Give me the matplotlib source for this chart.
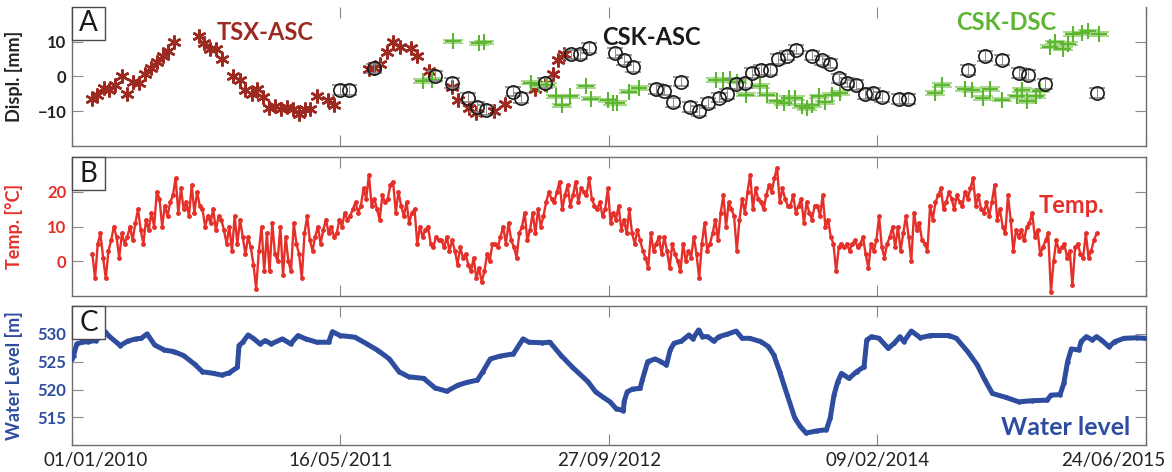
import matplotlib.pyplot as plt
import matplotlib.dates as mdates
import matplotlib.transforms as mtransforms
from matplotlib.patches import Rectangle
import numpy as np
import pandas as pd

plt.rcParams['font.family'] = ['Lato', 'DejaVu Sans']

start = pd.Timestamp('2010-01-01')
end = pd.Timestamp('2015-06-24')
tick_days = [0, 500, 1000, 1500, 2000]

# InSAR displacement [mm], acquisition day counted from 01/01/2010
tsx_days = [38, 47, 60, 69, 80, 93, 103, 114, 125, 136, 147, 158, 169, 179, 190, 236, 246, 257, 268, 280,
            300, 312, 323, 335, 345, 356, 367, 379, 390, 400, 411, 423, 434, 444, 456, 477, 488, 554, 563, 574,
            586, 598, 610, 631, 642, 665, 707, 719, 740, 752, 786, 807, 862, 881, 895, 905, 916]
tsx_disp = [-6.4, -5.3, -3.4, -3.9, -2.5, 0.1, -5.1, -1.5, -1.8, 0.6, 2.3, 4.2, 6.0, 7.3, 10.0, 11.5, 9.7, 8.0, 8.0, 5.1,
            0.1, -1.0, -3.9, -5.1, -3.7, -6.0, -9.1, -8.6, -9.3, -8.8, -9.4, -10.9, -9.4, -9.4, -5.6, -6.7, -8.2, 2.0, 2.5, 3.7,
            7.0, 9.8, 8.4, 8.1, 6.0, 1.6, -3.1, -6.9, -9.1, -10.7, -9.9, -8.0, -3.7, -2.2, 0.6, 4.8, 6.5]

cska_days = [499, 515, 563, 676, 707, 738, 755, 771, 821, 836, 881, 930, 946, 963, 1011, 1028, 1044, 1087, 1102, 1120,
             1135, 1151, 1168, 1185, 1204, 1220, 1236, 1253, 1267, 1284, 1300, 1315, 1332, 1348, 1379, 1396, 1412, 1429,
             1444, 1460, 1477, 1492, 1508, 1541, 1556, 1669, 1700, 1732, 1764, 1780, 1812, 1908]
cska_disp = [-3.9, -3.9, 2.3, 0.1, -2.0, -6.1, -8.8, -9.8, -4.4, -6.3, -2.0, 6.3, 6.3, 8.1, 6.7, 4.8, 2.6, -3.7, -4.1, -7.5,
             -1.5, -8.8, -9.9, -7.7, -6.1, -5.0, -2.2, -2.0, 1.0, 1.8, 1.8, 5.1, 6.0, 7.7, 6.0, 4.6, 3.7, -0.6,
             -1.8, -2.5, -5.1, -4.8, -6.0, -6.5, -6.5, 1.8, 5.8, 4.8, 1.0, 0.4, -2.2, -4.8]
cska_err = 1.4

cskd_days = [653, 670, 710, 758, 767, 854, 870, 884, 902, 912, 927, 958, 966, 999, 1008, 1015, 1038, 1055, 1200, 1213,
             1225, 1239, 1256, 1281, 1294, 1312, 1326, 1336, 1346, 1359, 1369, 1379, 1392, 1403, 1415, 1430, 1607, 1621,
             1663, 1676, 1697, 1709, 1731, 1759, 1769, 1778, 1795, 1802, 1821, 1831, 1845, 1855, 1865, 1880, 1892, 1913]
cskd_disp = [-1.3, -1.0, 10.1, 9.5, 9.8, -1.8, -2.5, -2.5, -5.8, -8.4, -5.8, -2.9, -6.4, -6.9, -7.7, -7.7, -4.4, -3.4, -1.0, -1.0,
             -0.9, -1.5, -5.3, -2.8, -5.3, -7.2, -7.7, -6.3, -6.3, -8.6, -9.1, -8.4, -5.8, -7.5, -5.3, -4.8, -4.8, -2.5,
             -3.7, -3.9, -6.3, -3.7, -6.7, -5.8, -3.9, -7.2, -5.8, -4.1, 8.6, 9.8, 8.0, 9.4, 12.2, 12.4, 13.0, 12.2]
cskd_err = 0.5

# air temperature [C], one reading every 5 days from 08/02/2010
temp_first = '2010-02-08'
temp_vals = [
    2, -5, 5, 8, 1, -5, 3, 6, 10, 7,
    1, 8, 5, 7, 10, 6, 11, 15, 9, 5,
    12, 9, 14, 10, 20, 18, 10, 16, 13, 17,
    19, 24, 14, 21, 15, 17, 13, 22, 14, 20,
    16, 15, 10, 13, 11, 15, 9, 13, 12, 9,
    5, 10, 3, 13, 5, 12, 7, 2, 7, 4,
    -1, -8, 3, 10, -3, 8, -3, 11, 2, 0,
    10, -4, 7, 0, -3, 11, 5, 2, -5, 8,
    13, 6, 3, 7, 10, 5, 9, 12, 8, 10,
    7, 8, 12, 10, 14, 12, 13, 15, 17, 14,
    16, 21, 18, 25, 16, 18, 15, 12, 19, 17,
    18, 22, 23, 14, 20, 16, 13, 17, 11, 14,
    15, 5, 10, 7, 9, 10, 5, 4, 7, 6,
    6, 4, 7, 3, 6, 3, -1, 4, 1, 2,
    -1, -3, 1, -5, -2, -6, -3, 2, 0, 5,
    5, 4, 7, 10, 5, 11, 6, 4, 1, 8,
    10, 14, 6, 9, 14, 8, 15, 10, 13, 17,
    20, 18, 17, 20, 23, 15, 19, 22, 16, 19,
    23, 17, 21, 20, 19, 24, 18, 16, 15, 17,
    13, 15, 21, 11, 14, 12, 16, 9, 12, 8,
    15, 8, 5, 9, 6, 3, 1, -2, 8, 3,
    5, 7, 2, 7, 3, -2, 5, 2, 0, -3,
    5, 0, 3, 1, 7, 2, -5, 5, 11, 3,
    5, 8, 12, 6, 14, 19, 10, 17, 15, 13,
    3, 12, 18, 14, 20, 25, 15, 21, 18, 17,
    15, 19, 22, 20, 24, 27, 17, 21, 18, 16,
    16, 19, 14, 16, 18, 11, 17, 14, 12, 16,
    16, 13, 19, 10, 12, 7, 5, -3, 4, 5,
    4, 5, 3, 5, 6, 4, 5, 7, 2, -2,
    5, 3, 6, 13, 4, 1, 5, 7, 10, 4,
    10, 3, 8, 13, 7, 0, 14, 9, 11, 6,
    5, 3, 16, 12, 17, 19, 21, 15, 17, 20,
    18, 15, 19, 17, 16, 20, 18, 21, 24, 16,
    19, 15, 14, 17, 13, 17, 22, 12, 15, 10,
    8, 19, 12, 3, 9, 7, 9, 6, 10, 11,
    14, 7, 9, 2, 4, 6, 8, -9, 0, 6,
    3, 4, 5, 1, 3, -7, 4, 5, 2, 1,
    8, 1, 3, 6, 8,
]

# reservoir water level [m a.s.l.]
wl_days = [0, 3, 9, 19, 30, 45, 62, 69, 90, 104, 119, 129, 140, 154, 172, 190, 208, 229, 243, 264,
           279, 293, 308, 311, 318, 328, 339, 350, 360, 371, 392, 407, 421, 435, 456, 478, 485, 499, 527, 549,
           570, 591, 609, 627, 655, 676, 698, 719, 736, 755, 765, 779, 797, 822, 840, 851, 876, 890, 911, 932,
           961, 975, 988, 1002, 1013, 1027, 1028, 1034, 1044, 1058, 1062, 1072, 1086, 1097, 1107, 1114, 1121, 1135, 1149, 1156,
           1167, 1174, 1184, 1195, 1205, 1219, 1237, 1248, 1262, 1283, 1297, 1307, 1318, 1332, 1346, 1356, 1367, 1388, 1405, 1412,
           1419, 1426, 1433, 1447, 1461, 1475, 1480, 1489, 1503, 1520, 1531, 1542, 1549, 1563, 1580, 1598, 1633, 1647, 1668, 1686,
           1700, 1714, 1739, 1763, 1788, 1816, 1823, 1840, 1847, 1854, 1861, 1875, 1879, 1889, 1900, 1908, 1917, 1931, 1942, 1959,
           1984, 1998]
wl_vals = [525.5, 526.1, 528.2, 528.5, 528.6, 528.8, 530.4, 529.6, 527.9, 528.7, 529.1, 529.2, 530.0, 528.0, 527.1, 526.8, 526.1, 524.5, 523.2, 522.9,
           522.6, 523.0, 524.0, 527.9, 528.5, 529.8, 529.1, 528.2, 528.8, 528.2, 529.1, 528.2, 529.7, 529.1, 528.5, 528.5, 530.4, 529.7, 529.4, 528.2,
           527.0, 525.5, 523.2, 522.3, 522.0, 520.3, 519.7, 520.8, 521.3, 521.7, 523.2, 525.5, 526.0, 526.4, 529.1, 528.5, 528.4, 528.5, 526.1, 524.0,
           521.4, 519.6, 518.7, 517.8, 516.6, 516.2, 517.8, 519.6, 520.1, 520.2, 521.7, 525.0, 525.5, 525.0, 524.4, 527.1, 528.3, 528.7, 529.8, 529.1,
           530.7, 529.5, 529.5, 528.7, 529.5, 529.9, 530.5, 529.2, 529.2, 528.6, 527.7, 526.2, 523.2, 519.0, 514.9, 513.4, 512.2, 512.6, 512.8, 514.9,
           519.0, 521.4, 522.9, 522.0, 523.2, 524.1, 528.9, 529.5, 529.2, 527.4, 528.3, 529.5, 528.6, 530.5, 529.3, 529.7, 529.7, 529.2, 526.8, 524.4,
           521.7, 519.3, 518.6, 517.8, 518.0, 518.1, 519.0, 519.1, 521.1, 525.0, 527.3, 527.1, 528.6, 529.5, 528.9, 529.5, 528.9, 527.7, 528.6, 529.2,
           529.3, 529.2]


def to_dates(days):
    return start + pd.to_timedelta(np.asarray(days), unit='D')


red_tsx = '#9c2a20'
green = '#5db531'
red_t = '#e5302a'
blue = '#2e4d9f'
axis_grey = '#6e6e6e'

fig = plt.figure(figsize=(11.72, 4.72), dpi=100)
left, width = 0.0614, 0.9164
ax1 = fig.add_axes([left, 0.6913, width, 0.2939])
ax2 = fig.add_axes([left, 0.3735, width, 0.2932])
ax3 = fig.add_axes([left, 0.0566, width, 0.2951])

# A: displacement
ax1.plot(to_dates(tsx_days), tsx_disp, ls='none', marker=(6, 2, 0), ms=10, mew=1.8,
         color=red_tsx, zorder=3)
ax1.errorbar(to_dates(cskd_days), cskd_disp, yerr=cskd_err, fmt='+', ms=11, mew=1.5,
             color=green, ecolor='#a9d98f', elinewidth=1.0, capsize=7, capthick=1.1, zorder=4)
ax1.errorbar(to_dates(cska_days), cska_disp, yerr=cska_err, fmt='o', ms=9.5, mfc='none',
             mec='#1a1a1a', mew=1.2, ecolor='#8a8a8a', elinewidth=0.7, capsize=6, capthick=0.9, zorder=5)
ax1.set_ylim(-20, 20)
ax1.set_yticks([-10, 0, 10])
ax1.set_ylabel('Displ. [mm]', fontsize=13, fontweight='bold', color='#222222')
ax1.spines['top'].set_visible(False)
ax1.text(0.18, 0.815, 'TSX-ASC', transform=ax1.transAxes, ha='center', va='center',
         fontsize=17, fontweight='bold', color=red_tsx)
ax1.text(0.54, 0.78, 'CSK-ASC', transform=ax1.transAxes, ha='center', va='center',
         fontsize=17, fontweight='bold', color='#1a1a1a')
ax1.text(0.87, 0.89, 'CSK-DSC', transform=ax1.transAxes, ha='center', va='center',
         fontsize=17, fontweight='bold', color=green)

# B: temperature
temp_dates = pd.date_range(temp_first, periods=len(temp_vals), freq='5D')
ax2.plot(temp_dates, temp_vals, color=red_t, lw=1.7, marker='.', ms=5, zorder=3)
ax2.set_ylim(-10, 30)
ax2.set_yticks([0, 10, 20])
ax2.set_ylabel('Temp. [°C]', fontsize=13, fontweight='bold', color=red_t)
ax2.text(0.931, 0.655, 'Temp.', transform=ax2.transAxes, ha='center', va='center',
         fontsize=17, fontweight='bold', color=red_t)

# C: water level
ax3.plot(to_dates(wl_days), wl_vals, color=blue, lw=3.6, marker='.', ms=4.5, zorder=3)
ax3.set_ylim(510, 535)
ax3.set_yticks([515, 520, 525, 530])
ax3.set_ylabel('Water Level [m]', fontsize=13, fontweight='bold', color=blue)
ax3.text(0.925, 0.125, 'Water level', transform=ax3.transAxes, ha='center', va='center',
         fontsize=18, fontweight='bold', color=blue)

tick_color = {ax1: '#222222', ax2: red_t, ax3: blue}
for ax, letter in zip([ax1, ax2, ax3], 'ABC'):
    ax.set_xlim(start, end)
    ax.set_xticks(to_dates(tick_days))
    ax.xaxis.set_major_formatter(mdates.DateFormatter('%d/%m/%Y'))
    ax.tick_params(axis='both', direction='in', length=8, width=0.8, color='#8a8a8a',
                   top=True, right=True)
    ax.tick_params(axis='y', labelsize=12, labelcolor=tick_color[ax], pad=4)
    for lab in ax.get_yticklabels():
        lab.set_fontweight('bold')
    ax.yaxis.set_label_coords(-0.046, 0.5)
    for sp in ax.spines.values():
        sp.set_color(axis_grey)
        sp.set_linewidth(1.0)
    # panel letter in a framed box at the top-left corner
    ax.add_patch(Rectangle((0, 1 - 0.238), 0.0307, 0.238, transform=ax.transAxes,
                           facecolor='white', edgecolor='#4a4a4a', lw=1.0, zorder=6, clip_on=False))
    ax.text(0.0307 / 2, 1 - 0.119, letter, transform=ax.transAxes, ha='center', va='center',
            fontsize=20, color='#1a1a1a', zorder=7)

ax1.tick_params(axis='x', labelbottom=False)
ax2.tick_params(axis='x', labelbottom=False)
ax3.tick_params(axis='x', labelsize=13.5, labelcolor='#222222', pad=5)

# keep the outer date labels inside the figure
xlabels = ax3.get_xticklabels()
shifts = {0: 24, len(xlabels) - 1: -33}
for i, dx in shifts.items():
    off = mtransforms.ScaledTranslation(dx / 100, 0, fig.dpi_scale_trans)
    xlabels[i].set_transform(xlabels[i].get_transform() + off)

fig.savefig('out.png', dpi=100)
